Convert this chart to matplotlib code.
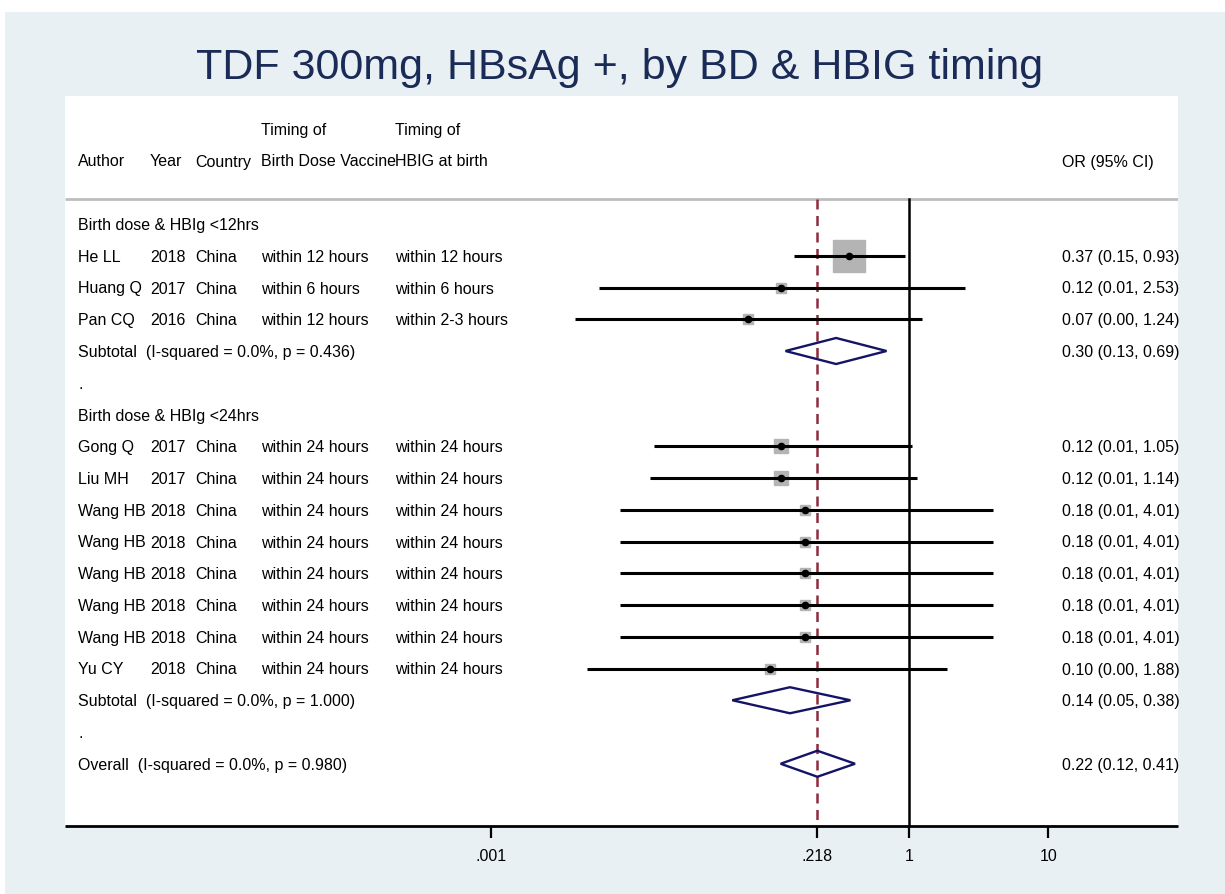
import numpy as np
import matplotlib
matplotlib.use("Agg")
import matplotlib.pyplot as plt
from matplotlib.patches import Polygon, Rectangle

plt.rcParams["font.family"] = ["Liberation Sans", "DejaVu Sans"]

# study level data
authors = ["He LL", "Huang Q", "Pan CQ", "Gong Q", "Liu MH",
           "Wang HB", "Wang HB", "Wang HB", "Wang HB", "Wang HB", "Yu CY"]
years = ["2018", "2017", "2016", "2017", "2017",
         "2018", "2018", "2018", "2018", "2018", "2018"]
countries = ["China"] * 11
bd_timing = ["within 12 hours", "within 6 hours", "within 12 hours",
             "within 24 hours", "within 24 hours", "within 24 hours", "within 24 hours",
             "within 24 hours", "within 24 hours", "within 24 hours", "within 24 hours"]
hbig_timing = ["within 12 hours", "within 6 hours", "within 2-3 hours",
               "within 24 hours", "within 24 hours", "within 24 hours", "within 24 hours",
               "within 24 hours", "within 24 hours", "within 24 hours", "within 24 hours"]
odds = [0.37, 0.12, 0.07, 0.12, 0.12, 0.18, 0.18, 0.18, 0.18, 0.18, 0.10]
ci_lo = [0.15, 0.006, 0.004, 0.0148, 0.0139, 0.0084, 0.0084, 0.0084, 0.0084, 0.0084, 0.0049]
ci_hi = [0.93, 2.53, 1.24, 1.05, 1.14, 4.01, 4.01, 4.01, 4.01, 4.01, 1.88]
weights = [48.7, 4.8, 3.9, 9.3, 9.3, 3.9, 3.9, 3.9, 3.9, 3.9, 4.8]
study_group = [0, 0, 0, 1, 1, 1, 1, 1, 1, 1, 1]

# subgroups and overall
group_titles = ["Birth dose & HBIg <12hrs", "Birth dose & HBIg <24hrs"]
pooled_labels = ["Subtotal  (I-squared = 0.0%, p = 0.436)",
                 "Subtotal  (I-squared = 0.0%, p = 1.000)",
                 "Overall  (I-squared = 0.0%, p = 0.980)"]
pooled_or = [0.30, 0.14, 0.22]
pooled_lo = [0.13, 0.054, 0.12]
pooled_hi = [0.69, 0.38, 0.41]

xticks = [0.001, 0.218, 1, 10]
xticklabels = [".001", ".218", "1", "10"]

W, H = 1225, 894
fig = plt.figure(figsize=(W / 100, H / 100), dpi=100)
fig.patches.append(Rectangle((5 / W, 0), 1, 1 - 12 / H, transform=fig.transFigure,
                             facecolor="#e8f0f3", edgecolor="none", zorder=-10))
fig.text(620 / W, 1 - 68 / H, "TDF 300mg, HBsAg +, by BD & HBIG timing",
         ha="center", va="center", fontsize=31, color="#1b2b57")

ax = fig.add_axes([65 / W, 1 - 826 / H, (1178 - 65) / W, (826 - 96) / H])
ax.set_facecolor("white")
ax.set_xscale("log")
dec = 139.4
ax.set_xlim(10 ** ((65 - 909) / dec), 10 ** ((1178 - 909) / dec))
row_px = 31.75
ax.set_ylim((826 - 224) / row_px, (96 - 224) / row_px)

for s in ["top", "left", "right"]:
    ax.spines[s].set_visible(False)
ax.spines["bottom"].set_linewidth(2)
ax.spines["bottom"].set_capstyle("butt")
ax.set_yticks([])
ax.set_xticks(xticks)
ax.set_xticklabels(xticklabels)
ax.xaxis.set_minor_locator(matplotlib.ticker.NullLocator())
ax.tick_params(axis="x", direction="out", length=8.5, width=1.6, pad=8, labelsize=11.5)


def colx(px):
    # column x positions in axes fraction
    return (px - 65) / (1178 - 65)


cols = [colx(78), colx(150), colx(195), colx(261), colx(395), colx(1062)]
tr = ax.get_yaxis_transform()
fs = 11.5
dy = 1.5 / row_px  # small nudge down to match baseline


def put(col, row, s):
    ax.text(col, row + dy, s, transform=tr, ha="left", va="center", fontsize=fs, color="black")


put(cols[3], -3, "Timing of")
put(cols[4], -3, "Timing of")
for c, s in zip(cols, ["Author", "Year", "Country", "Birth Dose Vaccine", "HBIG at birth", "OR (95% CI)"]):
    put(c, -2, s)

line_y = (199 - 224) / row_px
bottom_y = (826 - 224) / row_px
ax.plot([0, 1], [line_y, line_y], transform=tr, color="#bdbdbd", lw=2, solid_capstyle="butt")
ax.plot([1, 1], [line_y, bottom_y], color="black", lw=1.8)
ax.plot([pooled_or[2]] * 2, [line_y, bottom_y], color="#8e2c3c", lw=1.8, dashes=(4, 2.6))

# row layout: group header, studies, subtotal, spacer dot
study_rows = []
pooled_rows = []
r = 0
for g in range(2):
    put(cols[0], r, group_titles[g])
    r += 1
    for i in range(len(authors)):
        if study_group[i] == g:
            study_rows.append(r)
            r += 1
    pooled_rows.append(r)
    r += 1
    put(cols[0], r, ".")
    r += 1
pooled_rows.append(r)

for i, yr in enumerate(study_rows):
    put(cols[0], yr, authors[i])
    put(cols[1], yr, years[i])
    put(cols[2], yr, countries[i])
    put(cols[3], yr, bd_timing[i])
    put(cols[4], yr, hbig_timing[i])
    put(cols[5], yr, "%.2f (%.2f, %.2f)" % (odds[i], ci_lo[i], ci_hi[i]))
    side = 32 * np.sqrt(weights[i] / 48.7) * 0.72
    ax.plot(odds[i], yr, marker="s", ms=side, mfc="#b4b4b4", mec="#b4b4b4", zorder=2)
    ax.plot([ci_lo[i], ci_hi[i]], [yr, yr], color="black", lw=2.2, zorder=3,
            solid_capstyle="butt")
    ax.plot(odds[i], yr, marker="o", ms=4.5, color="black", zorder=4)

for j, yr in enumerate(pooled_rows):
    put(cols[0], yr, pooled_labels[j])
    put(cols[5], yr, "%.2f (%.2f, %.2f)" % (pooled_or[j], pooled_lo[j], pooled_hi[j]))
    h = 0.41
    d = Polygon([(pooled_lo[j], yr), (pooled_or[j], yr - h), (pooled_hi[j], yr),
                 (pooled_or[j], yr + h)], closed=True, fill=False,
                edgecolor="#141466", lw=1.7, zorder=5)
    ax.add_patch(d)

fig.savefig("out.png", dpi=100)
